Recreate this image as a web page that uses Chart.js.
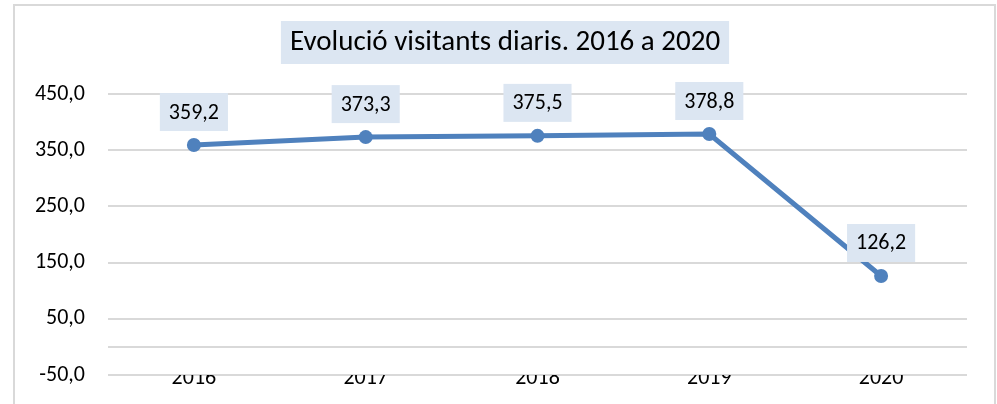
<!DOCTYPE html>
<html>
<head>
<meta charset="utf-8">
<script src="https://cdn.jsdelivr.net/npm/chart.js@4.4.1/dist/chart.umd.min.js"></script>
<style>
    html, body { margin: 0; padding: 0; background: #fff; }
    #wrap { width: 997px; height: 404px; }
</style>
</head>
<body>
<div id="wrap"><canvas id="chart" width="997" height="404"></canvas></div>
<script>
// --- DATA ---
const titleText = 'Evolució visitants diaris. 2016 a 2020';
const years = ['2016', '2017', '2018', '2019', '2020'];
const visitors = [359.2, 373.3, 375.5, 378.8, 126.2];
const yTicks = [-50, 50, 150, 250, 350, 450];

const FONT = "'Carlito', 'Open Sans', sans-serif";
const LINE_BLUE = '#4F81BD';
const LABEL_BG = '#DCE6F2';
const GRID = '#D9D9D9';

const fmt = v => v.toFixed(1).replace('.', ',');

// frame, title box and zero line (Excel draws the category axis at 0)
const decorPlugin = {
    id: 'decor',
    beforeDraw(chart) {
        const ctx = chart.ctx;
        ctx.save();
        ctx.strokeStyle = GRID;
        ctx.lineWidth = 2;
        ctx.strokeRect(14, 5, 981, 420);

        // title with filled background
        ctx.font = '29px ' + FONT;
        const w = ctx.measureText(titleText).width;
        const cx = 505, cy = 43;
        ctx.fillStyle = LABEL_BG;
        ctx.fillRect(cx - w / 2 - 9, 21, w + 18, 43);
        ctx.fillStyle = '#000';
        ctx.textAlign = 'center';
        ctx.textBaseline = 'middle';
        ctx.fillText(titleText, cx, cy);
        ctx.restore();
    },
    beforeDatasetsDraw(chart) {
        const { ctx, chartArea, scales } = chart;
        const y0 = Math.round(scales.y.getPixelForValue(0));
        ctx.save();
        ctx.strokeStyle = GRID;
        ctx.lineWidth = 2;
        ctx.beginPath();
        ctx.moveTo(chartArea.left, y0);
        ctx.lineTo(chartArea.right, y0);
        ctx.stroke();
        ctx.restore();
    }
};

// value labels in filled boxes above each point
const labelPlugin = {
    id: 'valueLabels',
    afterDatasetsDraw(chart) {
        const ctx = chart.ctx;
        const meta = chart.getDatasetMeta(0);
        ctx.save();
        ctx.font = '22px ' + FONT;
        ctx.textAlign = 'center';
        ctx.textBaseline = 'middle';
        meta.data.forEach((pt, i) => {
            const txt = fmt(visitors[i]);
            const w = ctx.measureText(txt).width + 18;
            const h = 38;
            const bottom = pt.y - 14;
            ctx.fillStyle = LABEL_BG;
            ctx.fillRect(pt.x - w / 2, bottom - h, w, h);
            ctx.fillStyle = '#000';
            ctx.fillText(txt, pt.x, bottom - h / 2 + 1);
        });
        ctx.restore();
    }
};

new Chart(document.getElementById('chart'), {
    type: 'line',
    data: {
        labels: years,
        datasets: [{
            data: visitors,
            borderColor: LINE_BLUE,
            backgroundColor: LINE_BLUE,
            borderWidth: 5,
            pointRadius: 7,
            pointHoverRadius: 7,
            pointBorderWidth: 0,
            fill: false,
            tension: 0
        }]
    },
    options: {
        responsive: false,
        animation: false,
        layout: { padding: { left: 0, right: 30, top: 94, bottom: 0 } },
        plugins: {
            legend: { display: false },
            title: { display: false },
            tooltip: { enabled: false }
        },
        scales: {
            x: {
                offset: true,
                grid: { display: false, drawTicks: false },
                border: { display: false },
                ticks: { color: '#000', font: { family: FONT, size: 22 }, padding: -10 },
                afterFit: s => { s.height = 29; }
            },
            y: {
                min: -50,
                max: 450,
                afterBuildTicks: s => { s.ticks = yTicks.map(v => ({ value: v })); },
                // invisible tick marks push the labels away instead of ticks.padding
                grid: { color: GRID, lineWidth: 2, drawTicks: true, tickLength: 23, tickColor: 'rgba(0,0,0,0)' },
                border: { display: false },
                ticks: {
                    color: '#000',
                    font: { family: FONT, size: 22 },
                    padding: 0,
                    callback: v => fmt(v)
                },
                afterFit: s => { s.width = 108; }
            }
        }
    },
    plugins: [decorPlugin, labelPlugin]
});
</script>
</body>
</html>
